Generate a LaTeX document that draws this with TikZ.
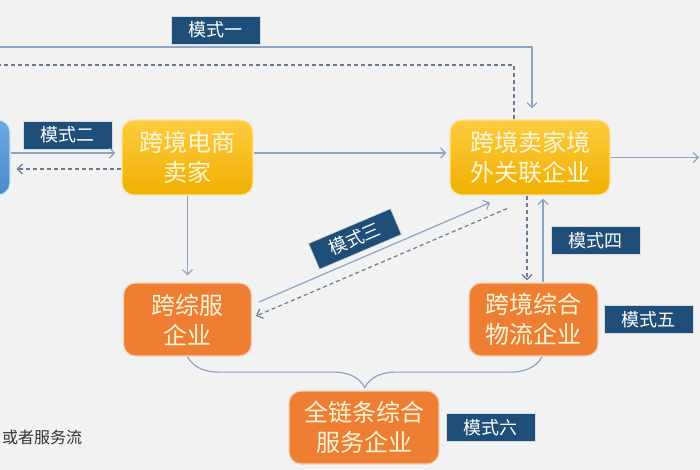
\documentclass[tikz,border=0pt]{standalone}
\usepackage{fontspec}
\newfontfamily\cjk{Noto Sans CJK SC}
\usepackage{xcolor}
\usepackage{tikz}
\usetikzlibrary{shapes.geometric, arrows.meta, positioning, decorations.pathreplacing}
\definecolor{pagebg}{HTML}{F2F2F2}
\definecolor{yellowtop}{HTML}{FDCC40}
\definecolor{yellowbot}{HTML}{F0AF00}
\definecolor{yellowrim}{HTML}{FCE6A0}
\definecolor{orangefill}{HTML}{EE7E32}
\definecolor{orangerim}{HTML}{F8D2B6}
\definecolor{buyertop}{HTML}{6AA8E0}
\definecolor{buyerbot}{HTML}{4A8BCB}
\definecolor{boxtext}{HTML}{FFF5D8}
\definecolor{modeblue}{HTML}{1F4E79}
\definecolor{linkblue}{HTML}{8AA5C8}
\definecolor{dashgray}{HTML}{687C94}
\tikzset{
    sellerbox/.style={rectangle, rounded corners=12pt, minimum height=75pt, text centered, align=center, draw=yellowrim, line width=1.2pt, top color=yellowtop, bottom color=yellowbot, text=boxtext, font=\cjk\fontsize{24}{30}\selectfont},
    servicebox/.style={rectangle, rounded corners=12pt, minimum height=73pt, text centered, align=center, draw=orangerim, line width=1.2pt, fill=orangefill, text=boxtext, font=\cjk\fontsize{24}{30}\selectfont},
    buyerbox/.style={rectangle, rounded corners=12pt, minimum height=75pt, draw=white!70!buyertop, line width=1.2pt, top color=buyertop, bottom color=buyerbot},
    modelabel/.style={rectangle, minimum width=89pt, minimum height=28pt, inner sep=0pt, fill=modeblue, draw=white!80!modeblue, line width=0.6pt, text=white, font=\cjk\fontsize{18}{20}\selectfont},
    arrow/.style={draw=linkblue, line width=1.2pt, -{Straight Barb[length=5pt,width=10pt]}},
    dasharrow/.style={arrow, draw=dashgray, dash pattern=on 4pt off 3pt},
    dashline/.style={draw=dashgray, line width=1.2pt, dash pattern=on 4pt off 3pt},
    linkline/.style={draw=linkblue, line width=1.2pt}
}
\begin{document}
\begin{tikzpicture}[x=1pt, y=-1pt, node distance=162pt]
    \useasboundingbox (0,0) rectangle (700,470);
    \clip (0,0) rectangle (700,470);
    \fill [pagebg] (0,0) rectangle (700,470);

    \node (buyer) [buyerbox, minimum width=120pt] at (-50,157.5) {};
    \node (seller) [sellerbox, minimum width=131pt] at (187.5,157.5) {跨境电商\\卖家};
    \node (overseas) [sellerbox, minimum width=160pt, right of=seller, xshift=180.5pt] {跨境卖家境\\外关联企业};
    \node (kzf) [servicebox, minimum width=128pt, below of=seller] {跨综服\\企业};
    \node (wl) [servicebox, minimum width=129pt, below of=overseas, xshift=3.5pt] {跨境综合\\物流企业};
    \node (qlt) [servicebox, minimum width=150pt] at (364,427.5) {全链条综合\\服务企业};

    \node (m1) [modelabel] at (215.5,30) {模式一};
    \node (m2) [modelabel] at (67.5,135) {模式二};
    \node (m3) [modelabel, rotate=23] at (355,239) {模式三};
    \node (m4) [modelabel] at (595.5,240.5) {模式四};
    \node (m5) [modelabel, right=5pt of wl] {模式五};
    \node (m6) [modelabel, right=6pt of qlt] {模式六};
    \node (legend) [anchor=west, inner sep=0pt, text=black!80, font=\cjk\fontsize{16}{18}\selectfont] at (2,437) {或者服务流};

    \coordinate (westtop) at (-2,47);
    \coordinate (westdash) at (-2,65);
    \coordinate (eastout) at (699,157.5);

    \draw [arrow, shorten >=11pt] (westtop) -| ([xshift=2pt]overseas.north);
    \draw [dashline] ([xshift=-16pt]overseas.north) |- (westdash);
    \draw [arrow, shorten >=6pt] ([yshift=4.5pt]buyer.east) -- ([yshift=4.5pt]seller.west);
    \draw [dasharrow, shorten >=6pt] ([yshift=-11.5pt]seller.west) -- ([yshift=-11.5pt]buyer.east);
    \draw [arrow, shorten >=3pt] ([yshift=4.5pt]seller.east) -- ([yshift=4.5pt]overseas.west);
    \draw [arrow] (overseas.east) -- (eastout);
    \draw [arrow, shorten >=7pt] (seller.south) -- (kzf.north);
    \draw [arrow] ([xshift=7pt,yshift=17.5pt]kzf.east) -- ([xshift=-40pt,yshift=-7pt]overseas.south);
    \draw [dasharrow] ([xshift=-23pt,yshift=-13pt]overseas.south) -- ([xshift=4pt,yshift=3.5pt]kzf.east);
    \draw [dasharrow, shorten >=2pt] ([xshift=-3pt]overseas.south) -- ([xshift=-6.5pt]wl.north);
    \draw [arrow, shorten >=3pt] ([xshift=9.5pt]wl.north) -- ([xshift=13pt]overseas.south);
    \draw [linkline, decorate, decoration={brace, mirror, amplitude=31pt}] (kzf.south) -- ([xshift=8.5pt]wl.south);
\end{tikzpicture}
\end{document}
